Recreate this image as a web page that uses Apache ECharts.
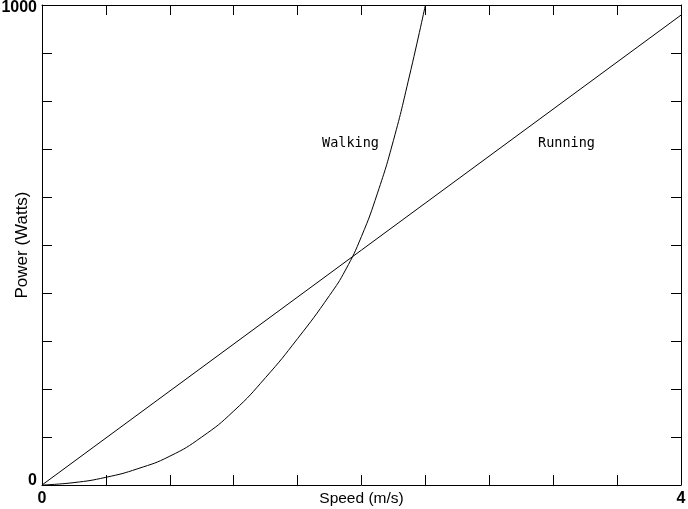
<!DOCTYPE html>
<html>
<head>
<meta charset="utf-8">
<script src="https://cdn.jsdelivr.net/npm/echarts@6/dist/echarts.min.js"></script>
<style>html,body{margin:0;padding:0;background:#fff;}#c{width:688px;height:509px;}</style>
</head>
<body>
<div id="c"></div>
<script>
var walkingSpeed = [0, 0.2, 0.4, 0.6, 0.8, 1.0, 1.2, 1.4, 1.6, 1.8, 1.9, 2.0, 2.1, 2.2, 2.3, 2.4];
var walkingPower = [0, 5, 16, 34, 60, 100, 154, 224, 305, 395, 448, 518, 608, 718, 852, 1000];
var runningSpeed = [0, 4];
var runningPower = [0, 979];
var xTickLabels = [0, 4];
var yTickLabels = [0, 1000];
var seriesLabels = [
  { text: 'Walking', speed: 1.753, power: 712 },
  { text: 'Running', speed: 3.105, power: 712 }
];

function zip(a, b) { return a.map(function (v, i) { return [v, b[i]]; }); }

var chart = echarts.init(document.getElementById('c'), null, { renderer: 'canvas' });
var FF = 'Liberation Sans, Arial, sans-serif';
var lblFont = { color: '#000', fontFamily: FF, fontSize: 16, fontWeight: 'bold' };
function common() {
  return {
    axisLine: { show: true, onZero: false, lineStyle: { color: '#000', width: 1 } },
    axisTick: { show: true, inside: true, length: 10, lineStyle: { color: '#000', width: 1 } },
    splitLine: { show: false }
  };
}
var option = {
  animation: false,
  backgroundColor: '#fff',
  grid: { left: 42, top: 5, right: 7, bottom: 24, containLabel: false, outerBoundsMode: 'none' },
  xAxis: [
    Object.assign({
      type: 'value', min: 0, max: 4, interval: 0.4, position: 'bottom',
      name: 'Speed (m/s)', nameLocation: 'middle', nameGap: 6, nameMoveOverlap: false,
      nameTextStyle: { color: '#000', fontFamily: FF, fontSize: 15.5 },
      axisLabel: Object.assign({ margin: 6, formatter: function (v) { return xTickLabels.indexOf(Math.round(v * 1000) / 1000) >= 0 ? String(v) : ''; } }, lblFont)
    }, common()),
    Object.assign({ type: 'value', min: 0, max: 4, interval: 0.4, position: 'top', axisLabel: { show: false } }, common())
  ],
  yAxis: [
    Object.assign({
      type: 'value', min: 0, max: 1000, interval: 100, position: 'left',
      name: 'Power (Watts)', nameLocation: 'middle', nameGap: 11, nameMoveOverlap: false,
      nameTextStyle: { color: '#000', fontFamily: FF, fontSize: 17 },
      axisLabel: Object.assign({ margin: 5,
        formatter: function (v) {
          if (yTickLabels.indexOf(v) < 0) return '';
          return v === yTickLabels[yTickLabels.length - 1] ? '{hi|' + v + '}' : '{lo|' + v + '}';
        },
        rich: {
          hi: { color: '#000', fontFamily: FF, fontSize: 16, fontWeight: 'bold', padding: [5, 0, 0, 0] },
          lo: { color: '#000', fontFamily: FF, fontSize: 16, fontWeight: 'bold', padding: [0, 0, 8, 0] }
        }
      }, lblFont)
    }, common()),
    Object.assign({ type: 'value', min: 0, max: 1000, interval: 100, position: 'right', axisLabel: { show: false } }, common())
  ],
  series: [
    { name: 'Walking', type: 'line', data: zip(walkingSpeed, walkingPower), smooth: 0.5, showSymbol: false, clip: true,
      lineStyle: { color: '#000', width: 1 } },
    { name: 'Running', type: 'line', data: zip(runningSpeed, runningPower), showSymbol: false, clip: true,
      lineStyle: { color: '#000', width: 1 } }
  ]
};
chart.setOption(option);
var g = seriesLabels.map(function (l) {
  var p = chart.convertToPixel({ xAxisIndex: 0, yAxisIndex: 0 }, [l.speed, l.power]);
  return { type: 'text', x: p[0], y: p[1], style: { text: l.text, fill: '#000', font: '13.5px "DejaVu Sans Mono", monospace', textVerticalAlign: 'middle', verticalAlign: 'middle' } };
});
chart.setOption({ graphic: g });
</script>
</body>
</html>
